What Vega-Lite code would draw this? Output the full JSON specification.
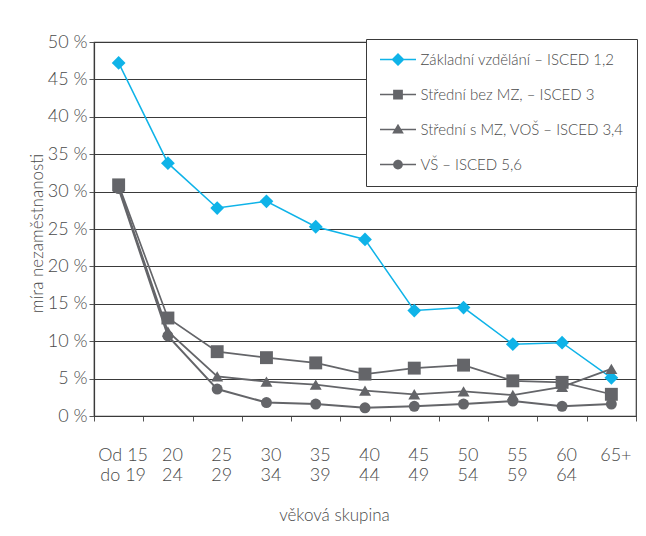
{
  "$schema": "https://vega.github.io/schema/vega-lite/v6.json",
  "width": 542,
  "height": 374,
  "autosize": {"type": "none"},
  "padding": {"left": 94, "top": 42, "right": 10, "bottom": 120},
  "background": "white",
  "config": {
    "font": "Lato",
    "view": {"stroke": "#3a3a3a", "strokeWidth": 1.2},
    "axis": {
      "labelFont": "Lato",
      "labelFontSize": 18,
      "labelFontWeight": 300,
      "labelColor": "#4a4a4a",
      "titleFont": "Lato",
      "titleFontSize": 17,
      "titleFontWeight": 300,
      "titleColor": "#4a4a4a",
      "domainColor": "#3a3a3a",
      "domainWidth": 1.2,
      "tickColor": "#555555",
      "tickSize": 5,
      "tickWidth": 1
    },
    "legend": {
      "labelFont": "Lato",
      "labelFontSize": 15,
      "labelFontWeight": 300,
      "labelColor": "#4a4a4a"
    }
  },
  "data": {
    "values": [
      {"age": "15-19", "series": "Základní vzdělání – ISCED 1,2", "value": 47.2},
      {"age": "20-24", "series": "Základní vzdělání – ISCED 1,2", "value": 33.8},
      {"age": "25-29", "series": "Základní vzdělání – ISCED 1,2", "value": 27.8},
      {"age": "30-34", "series": "Základní vzdělání – ISCED 1,2", "value": 28.7},
      {"age": "35-39", "series": "Základní vzdělání – ISCED 1,2", "value": 25.3},
      {"age": "40-44", "series": "Základní vzdělání – ISCED 1,2", "value": 23.6},
      {"age": "45-49", "series": "Základní vzdělání – ISCED 1,2", "value": 14.1},
      {"age": "50-54", "series": "Základní vzdělání – ISCED 1,2", "value": 14.5},
      {"age": "55-59", "series": "Základní vzdělání – ISCED 1,2", "value": 9.6},
      {"age": "60-64", "series": "Základní vzdělání – ISCED 1,2", "value": 9.8},
      {"age": "65+", "series": "Základní vzdělání – ISCED 1,2", "value": 5.1},
      {"age": "15-19", "series": "Střední bez MZ, – ISCED 3", "value": 30.9},
      {"age": "20-24", "series": "Střední bez MZ, – ISCED 3", "value": 13.1},
      {"age": "25-29", "series": "Střední bez MZ, – ISCED 3", "value": 8.6},
      {"age": "30-34", "series": "Střední bez MZ, – ISCED 3", "value": 7.8},
      {"age": "35-39", "series": "Střední bez MZ, – ISCED 3", "value": 7.1},
      {"age": "40-44", "series": "Střední bez MZ, – ISCED 3", "value": 5.6},
      {"age": "45-49", "series": "Střední bez MZ, – ISCED 3", "value": 6.4},
      {"age": "50-54", "series": "Střední bez MZ, – ISCED 3", "value": 6.8},
      {"age": "55-59", "series": "Střední bez MZ, – ISCED 3", "value": 4.7},
      {"age": "60-64", "series": "Střední bez MZ, – ISCED 3", "value": 4.5},
      {"age": "65+", "series": "Střední bez MZ, – ISCED 3", "value": 2.9},
      {"age": "15-19", "series": "Střední s MZ, VOŠ – ISCED 3,4", "value": 30.6},
      {"age": "20-24", "series": "Střední s MZ, VOŠ – ISCED 3,4", "value": 11.3},
      {"age": "25-29", "series": "Střední s MZ, VOŠ – ISCED 3,4", "value": 5.3},
      {"age": "30-34", "series": "Střední s MZ, VOŠ – ISCED 3,4", "value": 4.6},
      {"age": "35-39", "series": "Střední s MZ, VOŠ – ISCED 3,4", "value": 4.2},
      {"age": "40-44", "series": "Střední s MZ, VOŠ – ISCED 3,4", "value": 3.4},
      {"age": "45-49", "series": "Střední s MZ, VOŠ – ISCED 3,4", "value": 2.9},
      {"age": "50-54", "series": "Střední s MZ, VOŠ – ISCED 3,4", "value": 3.3},
      {"age": "55-59", "series": "Střední s MZ, VOŠ – ISCED 3,4", "value": 2.8},
      {"age": "60-64", "series": "Střední s MZ, VOŠ – ISCED 3,4", "value": 3.9},
      {"age": "65+", "series": "Střední s MZ, VOŠ – ISCED 3,4", "value": 6.3},
      {"age": "15-19", "series": "VŠ – ISCED 5,6", "value": 30.4},
      {"age": "20-24", "series": "VŠ – ISCED 5,6", "value": 10.7},
      {"age": "25-29", "series": "VŠ – ISCED 5,6", "value": 3.6},
      {"age": "30-34", "series": "VŠ – ISCED 5,6", "value": 1.8},
      {"age": "35-39", "series": "VŠ – ISCED 5,6", "value": 1.6},
      {"age": "40-44", "series": "VŠ – ISCED 5,6", "value": 1.1},
      {"age": "45-49", "series": "VŠ – ISCED 5,6", "value": 1.3},
      {"age": "50-54", "series": "VŠ – ISCED 5,6", "value": 1.6},
      {"age": "55-59", "series": "VŠ – ISCED 5,6", "value": 2.0},
      {"age": "60-64", "series": "VŠ – ISCED 5,6", "value": 1.3},
      {"age": "65+", "series": "VŠ – ISCED 5,6", "value": 1.6}
    ]
  },
  "encoding": {
    "x": {
      "field": "age",
      "type": "ordinal",
      "sort": ["15-19", "20-24", "25-29", "30-34", "35-39", "40-44", "45-49", "50-54", "55-59", "60-64", "65+"],
      "scale": {"type": "band", "paddingInner": 0, "paddingOuter": 0},
      "axis": {
        "title": "věková skupina",
        "tickBand": "extent",
        "grid": false,
        "labelAngle": 0,
        "labelBaseline": "top",
        "labelPadding": 25,
        "labelLineHeight": 20,
        "labelOffset": 4,
        "labelExpr": "!isString(datum.value) ? '' : (datum.value == '15-19' ? ['Od 15', 'do 19'] : split(datum.value, '-'))",
        "titleX": 240,
        "titleY": 104,
        "titleAlign": "center",
        "titleBaseline": "alphabetic"
      }
    },
    "y": {
      "field": "value",
      "type": "quantitative",
      "scale": {"domain": [0, 50], "nice": false},
      "axis": {
        "title": "míra nezaměstnanosti",
        "values": [0, 5, 10, 15, 20, 25, 30, 35, 40, 45, 50],
        "labelExpr": "datum.value + ' %'",
        "labelPadding": 2,
        "grid": true,
        "gridColor": "#3a3a3a",
        "gridWidth": 1.1,
        "titleX": -52,
        "titleY": 191,
        "titleAlign": "center",
        "titleBaseline": "alphabetic"
      }
    }
  },
  "layer": [
    {
      "mark": {"type": "line"},
      "encoding": {
        "color": {
          "field": "series",
          "type": "nominal",
          "scale": {
            "domain": ["Základní vzdělání – ISCED 1,2", "Střední bez MZ, – ISCED 3", "Střední s MZ, VOŠ – ISCED 3,4", "VŠ – ISCED 5,6"],
            "range": ["#0fb3e8", "#646569", "#646569", "#646569"]
          },
          "legend": null
        },
        "strokeWidth": {
          "field": "series",
          "type": "nominal",
          "scale": {
            "domain": ["Základní vzdělání – ISCED 1,2", "Střední bez MZ, – ISCED 3", "Střední s MZ, VOŠ – ISCED 3,4", "VŠ – ISCED 5,6"],
            "range": [1.5, 2, 2, 2]
          },
          "legend": null
        }
      }
    },
    {
      "mark": {"type": "point", "filled": true, "opacity": 1},
      "encoding": {
        "color": {
          "field": "series",
          "type": "nominal",
          "scale": {
            "domain": ["Základní vzdělání – ISCED 1,2", "Střední bez MZ, – ISCED 3", "Střední s MZ, VOŠ – ISCED 3,4", "VŠ – ISCED 5,6"],
            "range": ["#0fb3e8", "#646569", "#646569", "#646569"]
          },
          "legend": null
        },
        "shape": {
          "field": "series",
          "type": "nominal",
          "scale": {
            "domain": ["Základní vzdělání – ISCED 1,2", "Střední bez MZ, – ISCED 3", "Střední s MZ, VOŠ – ISCED 3,4", "VŠ – ISCED 5,6"],
            "range": ["diamond", "square", "triangle-up", "circle"]
          },
          "legend": null
        },
        "size": {
          "field": "series",
          "type": "nominal",
          "scale": {
            "domain": ["Základní vzdělání – ISCED 1,2", "Střední bez MZ, – ISCED 3", "Střední s MZ, VOŠ – ISCED 3,4", "VŠ – ISCED 5,6"],
            "range": [190, 120, 130, 115]
          },
          "legend": null
        }
      }
    },
    {
      "transform": [{"filter": "false"}],
      "mark": {"type": "point", "filled": true, "opacity": 1},
      "encoding": {
        "color": {
          "field": "series",
          "type": "nominal",
          "scale": {
            "domain": ["Základní vzdělání – ISCED 1,2", "Střední bez MZ, – ISCED 3", "Střední s MZ, VOŠ – ISCED 3,4", "VŠ – ISCED 5,6"],
            "range": ["#0fb3e8", "#646569", "#646569", "#646569"]
          },
          "legend": {
            "title": null,
            "orient": "none",
            "legendX": 272,
            "legendY": -3,
            "padding": 13,
            "strokeColor": "#3a3a3a",
            "fillColor": "white",
            "symbolSize": 169,
            "symbolOffset": 11.5,
            "symbolStrokeWidth": 0,
            "symbolOpacity": 1,
            "labelOffset": 15,
            "rowPadding": 19,
            "labelLimit": 400,
            "labelFontSize": 15
          }
        },
        "shape": {
          "field": "series",
          "type": "nominal",
          "scale": {
            "domain": ["Základní vzdělání – ISCED 1,2", "Střední bez MZ, – ISCED 3", "Střední s MZ, VOŠ – ISCED 3,4", "VŠ – ISCED 5,6"],
            "range": [
              "M0,-1L1,0L0,1L-1,0Z M-2.77,-0.12L-0.9,-0.12L-0.9,0.12L-2.77,0.12Z M0.9,-0.12L2.77,-0.12L2.77,0.12L0.9,0.12Z",
              "M-0.75,-0.75L0.75,-0.75L0.75,0.75L-0.75,0.75Z M-2.77,-0.12L-0.7,-0.12L-0.7,0.12L-2.77,0.12Z M0.7,-0.12L2.77,-0.12L2.77,0.12L0.7,0.12Z",
              "M0,-0.9L0.9,0.6L-0.9,0.6Z M-2.77,-0.12L-0.5,-0.12L-0.5,0.12L-2.77,0.12Z M0.5,-0.12L2.77,-0.12L2.77,0.12L0.5,0.12Z",
              "M0.75,0A0.75,0.75 0 1,1 -0.75,0A0.75,0.75 0 1,1 0.75,0Z M-2.77,-0.12L-0.7,-0.12L-0.7,0.12L-2.77,0.12Z M0.7,-0.12L2.77,-0.12L2.77,0.12L0.7,0.12Z"
            ]
          }
        }
      }
    }
  ],
  "resolve": {
    "scale": {"color": "independent", "shape": "independent", "size": "independent", "strokeWidth": "independent"}
  }
}
